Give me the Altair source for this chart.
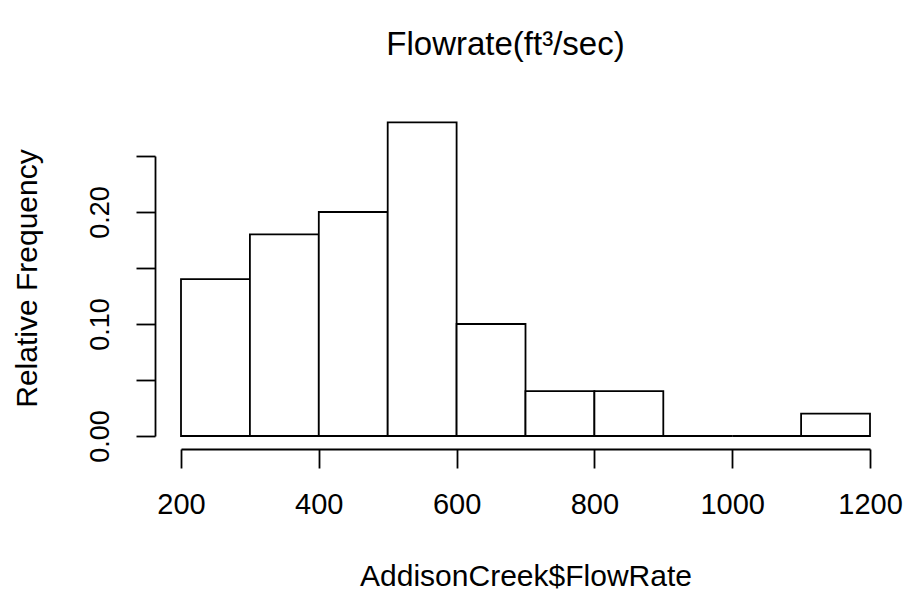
import altair as alt
import pandas as pd

bin_start = [200, 300, 400, 500, 600, 700, 800, 900, 1000, 1100]
bin_end = [300, 400, 500, 600, 700, 800, 900, 1000, 1100, 1200]
rel_freq = [0.14, 0.18, 0.20, 0.28, 0.10, 0.04, 0.04, 0.00, 0.00, 0.02]
x_ticks = [200, 400, 600, 800, 1000, 1200]
y_ticks = [0.00, 0.05, 0.10, 0.15, 0.20, 0.25]

df = pd.DataFrame({"start": bin_start, "end": bin_end, "freq": rel_freq})

FONT = "Liberation Sans"

bars = alt.Chart(df).mark_bar(
    fill="white", stroke="black", strokeWidth=1.8, clip=False
).encode(
    x=alt.X("start:Q",
            scale=alt.Scale(domain=[200, 1200], nice=False, zero=False),
            axis=alt.Axis(values=x_ticks, title="AddisonCreek$FlowRate",
                          offset=13, tickSize=19, labelPadding=22,
                          labelFlush=False,
                          titlePadding=42, grid=False, format="d",
                          labelFontSize=29, titleFontSize=30)),
    x2="end:Q",
    y=alt.Y("freq:Q",
            scale=alt.Scale(domain=[0, 0.25], nice=False),
            axis=alt.Axis(values=y_ticks, title="Relative Frequency",
                          offset=26, tickSize=19, labelAngle=-90,
                          labelAlign="center", labelBaseline="bottom",
                          labelFlush=False,
                          labelPadding=22, titlePadding=44, grid=False,
                          titleY=122,
                          labelExpr="(round(datum.value*100) % 10 == 0) ? format(datum.value, '.2f') : ''",
                          labelFontSize=27, titleFontSize=30)),
    y2=alt.datum(0),
)

chart = bars.properties(
    width=689, height=280,
    background="white",
    title=alt.TitleParams("Flowrate(ft³/sec)", fontSize=33, fontWeight="normal",
                          font=FONT, anchor="middle", offset=34, dx=-20,
                          baseline="alphabetic", color="black"),
    autosize=alt.AutoSizeParams(type="none"),
    padding={"left": 181, "top": 156, "right": 37, "bottom": 164},
).configure_view(stroke=None).configure_axis(
    domainColor="black", tickColor="black", domainWidth=1.8, tickWidth=1.8,
    labelColor="black", titleColor="black", labelFont=FONT, titleFont=FONT,
    titleFontWeight="normal",
)

chart.save("out.html", embed_options={"renderer": "svg", "actions": False})
